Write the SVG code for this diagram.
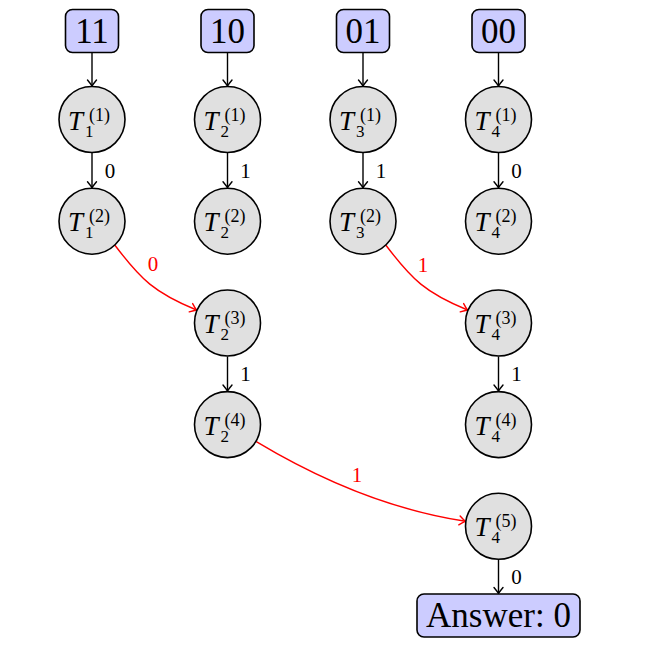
<svg xmlns="http://www.w3.org/2000/svg" width="647" height="652" viewBox="0 0 647 652">
<defs>
<style>
.box{fill:#ccccff;stroke:#000;stroke-width:1.6}
.nd{fill:#e0e0e0;stroke:#000;stroke-width:1.6}
.big{font-family:"Liberation Serif","DejaVu Serif",serif;font-size:35px;fill:#000;text-anchor:middle}
.T{font-family:"Liberation Serif","DejaVu Serif",serif;font-size:27px;font-style:italic;fill:#000}
.s{font-family:"Liberation Serif","DejaVu Serif",serif;font-size:17px;fill:#000}
.p{font-family:"Liberation Serif","DejaVu Serif",serif;font-size:18px;fill:#000}
.lb{font-family:"Liberation Serif","DejaVu Serif",serif;font-size:21px;fill:#000;text-anchor:middle}
.rl{font-family:"Liberation Serif","DejaVu Serif",serif;font-size:21px;fill:#ff0000;text-anchor:middle}
.e{fill:none;stroke:#000;stroke-width:1.4;marker-end:url(#ab)}
.r{fill:none;stroke:#ff0000;stroke-width:1.4;marker-end:url(#ar)}
</style>
<marker id="ab" markerUnits="userSpaceOnUse" viewBox="-8 -6 10 12" refX="0" refY="0" markerWidth="10" markerHeight="12" orient="auto" overflow="visible">
<path d="M-6,-4.5 Q-2,-1.2 0,0 Q-2,1.2 -6,4.5" fill="none" stroke="#000" stroke-width="1.4" stroke-linecap="round"/>
</marker>
<marker id="ar" markerUnits="userSpaceOnUse" viewBox="-8 -6 10 12" refX="0" refY="0" markerWidth="10" markerHeight="12" orient="auto" overflow="visible">
<path d="M-6,-4.5 Q-2,-1.2 0,0 Q-2,1.2 -6,4.5" fill="none" stroke="#ff0000" stroke-width="1.4" stroke-linecap="round"/>
</marker>
</defs>
<rect width="647" height="652" fill="#fff"/>

<g id="connectors">
<path class="e" d="M92,52.5 V86"/>
<path class="e" d="M92,153 V187.7"/>
<path class="e" d="M227.5,52.5 V86"/>
<path class="e" d="M227.5,153 V187.7"/>
<path class="e" d="M227.5,356.5 V391"/>
<path class="e" d="M363,52.5 V86"/>
<path class="e" d="M363,153 V187.7"/>
<path class="e" d="M498.5,52.5 V86"/>
<path class="e" d="M498.5,153 V187.7"/>
<path class="e" d="M498.5,356.5 V391"/>
<path class="e" d="M498.5,559.8 V593.5"/>
<path class="r" d="M114,244 C141,280 155,293 196.5,310"/>
<path class="r" d="M385,244 C412,280 426,293 467.5,310"/>
<path class="r" d="M256.3,441.6 C320.6,480.2 391.3,510 465.4,521.3"/>
<text class="lb" x="110" y="178">0</text>
<text class="lb" x="245.5" y="178">1</text>
<text class="lb" x="245.5" y="381">1</text>
<text class="lb" x="381" y="178">1</text>
<text class="lb" x="516.5" y="178">0</text>
<text class="lb" x="516.5" y="381">1</text>
<text class="lb" x="516.5" y="584">0</text>
<text class="rl" x="153" y="270.5">0</text>
<text class="rl" x="423" y="272">1</text>
<text class="rl" x="357" y="482">1</text>
</g>

<g id="in11"><rect class="box" x="65.5" y="9.5" width="53" height="43" rx="7"/><text class="big" x="92" y="43">11</text></g>
<g id="in10"><rect class="box" x="201" y="9.5" width="53" height="43" rx="7"/><text class="big" x="227.5" y="43">10</text></g>
<g id="in01"><rect class="box" x="336.5" y="9.5" width="53" height="43" rx="7"/><text class="big" x="363" y="43">01</text></g>
<g id="in00"><rect class="box" x="472" y="9.5" width="53" height="43" rx="7"/><text class="big" x="498.5" y="43">00</text></g>

<g id="T1_1"><circle class="nd" cx="92" cy="119.5" r="33"/><text class="T" x="68" y="129.5">T</text><text class="s" x="85" y="136.5">1</text><text class="p" x="89" y="120.5">(1)</text></g>
<g id="T1_2"><circle class="nd" cx="92" cy="221.2" r="33"/><text class="T" x="68" y="231.2">T</text><text class="s" x="85" y="238.2">1</text><text class="p" x="89" y="222.2">(2)</text></g>

<g id="T2_1"><circle class="nd" cx="227.5" cy="119.5" r="33"/><text class="T" x="203.5" y="129.5">T</text><text class="s" x="220.5" y="136.5">2</text><text class="p" x="224.5" y="120.5">(1)</text></g>
<g id="T2_2"><circle class="nd" cx="227.5" cy="221.2" r="33"/><text class="T" x="203.5" y="231.2">T</text><text class="s" x="220.5" y="238.2">2</text><text class="p" x="224.5" y="222.2">(2)</text></g>
<g id="T2_3"><circle class="nd" cx="227.5" cy="323" r="33"/><text class="T" x="203.5" y="333">T</text><text class="s" x="220.5" y="340">2</text><text class="p" x="224.5" y="324">(3)</text></g>
<g id="T2_4"><circle class="nd" cx="227.5" cy="424.6" r="33"/><text class="T" x="203.5" y="434.6">T</text><text class="s" x="220.5" y="441.6">2</text><text class="p" x="224.5" y="425.6">(4)</text></g>

<g id="T3_1"><circle class="nd" cx="363" cy="119.5" r="33"/><text class="T" x="339" y="129.5">T</text><text class="s" x="356" y="136.5">3</text><text class="p" x="360" y="120.5">(1)</text></g>
<g id="T3_2"><circle class="nd" cx="363" cy="221.2" r="33"/><text class="T" x="339" y="231.2">T</text><text class="s" x="356" y="238.2">3</text><text class="p" x="360" y="222.2">(2)</text></g>

<g id="T4_1"><circle class="nd" cx="498.5" cy="119.5" r="33"/><text class="T" x="474.5" y="129.5">T</text><text class="s" x="491.5" y="136.5">4</text><text class="p" x="495.5" y="120.5">(1)</text></g>
<g id="T4_2"><circle class="nd" cx="498.5" cy="221.2" r="33"/><text class="T" x="474.5" y="231.2">T</text><text class="s" x="491.5" y="238.2">4</text><text class="p" x="495.5" y="222.2">(2)</text></g>
<g id="T4_3"><circle class="nd" cx="498.5" cy="323" r="33"/><text class="T" x="474.5" y="333">T</text><text class="s" x="491.5" y="340">4</text><text class="p" x="495.5" y="324">(3)</text></g>
<g id="T4_4"><circle class="nd" cx="498.5" cy="424.6" r="33"/><text class="T" x="474.5" y="434.6">T</text><text class="s" x="491.5" y="441.6">4</text><text class="p" x="495.5" y="425.6">(4)</text></g>
<g id="T4_5"><circle class="nd" cx="498.5" cy="526.3" r="33"/><text class="T" x="474.5" y="536.3">T</text><text class="s" x="491.5" y="543.3">4</text><text class="p" x="495.5" y="527.3">(5)</text></g>

<g id="answer"><rect class="box" x="417" y="594" width="163" height="43" rx="7"/><text class="big" x="498.5" y="627">Answer: 0</text></g>
</svg>
